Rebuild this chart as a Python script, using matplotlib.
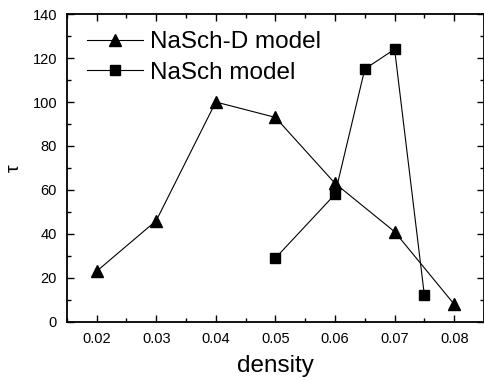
import matplotlib.pyplot as plt
from matplotlib.ticker import MultipleLocator

plt.rcParams['font.family'] = ['Liberation Sans', 'DejaVu Sans']

# NaSch-D model
dens_d = [0.02, 0.03, 0.04, 0.05, 0.06, 0.07, 0.08]
tau_d = [23, 46, 100, 93, 63, 41, 8]
# NaSch model
dens_n = [0.05, 0.06, 0.065, 0.07, 0.075]
tau_n = [29, 58, 115, 124, 12]

fig = plt.figure(figsize=(4.84, 3.8), dpi=100)
ax = fig.add_axes([0.138, 0.153, 0.862, 0.81])

ax.plot(dens_d, tau_d, '-^', color='black', lw=0.8, ms=8, label='NaSch-D model')
ax.plot(dens_n, tau_n, '-s', color='black', lw=0.8, ms=7, label='NaSch model')

ax.set_xlim(0.015, 0.085)
ax.set_ylim(0, 140)
ax.set_xticks([0.02, 0.03, 0.04, 0.05, 0.06, 0.07, 0.08])
ax.set_xticklabels(['0.02', '0.03', '0.04', '0.05', '0.06', '0.07', '0.08'])
ax.xaxis.set_minor_locator(MultipleLocator(0.005))
ax.yaxis.set_major_locator(MultipleLocator(20))
ax.yaxis.set_minor_locator(MultipleLocator(10))
ax.tick_params(which='both', direction='in', top=True, right=True, labelsize=10.5, width=1)
ax.tick_params(which='major', length=5, pad=7)
ax.tick_params(which='minor', length=3)
for s in ax.spines.values():
    s.set_linewidth(1.3)

ax.set_xlabel('density', fontsize=17.5, labelpad=7)
ax.set_ylabel('τ', fontsize=14, labelpad=7)

ax.legend(loc='upper left', frameon=False, fontsize=17.5, numpoints=1,
          handlelength=2.3, handletextpad=0.3, labelspacing=0.35,
          borderaxespad=0.3, bbox_to_anchor=(0.008, 1.0))

fig.savefig('out.png', dpi=100)
